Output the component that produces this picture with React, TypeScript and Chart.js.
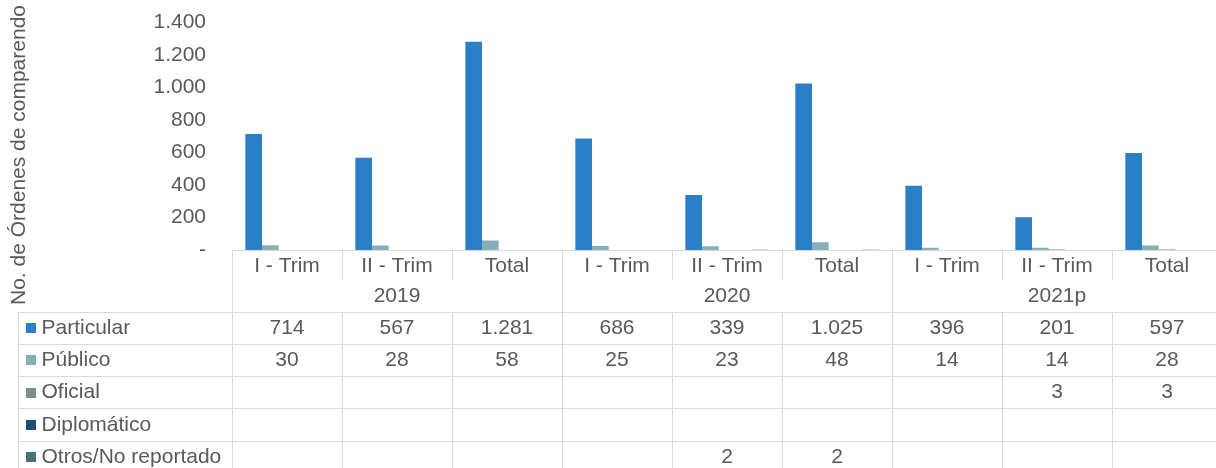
import React, { useEffect, useRef } from 'react';
import { Chart, registerables } from 'chart.js';

Chart.register(...registerables);

const periods = ['I - Trim', 'II - Trim', 'Total', 'I - Trim', 'II - Trim', 'Total', 'I - Trim', 'II - Trim', 'Total'];
const years = ['2019', '2020', '2021p'];
const seriesNames = ['Particular', 'Público', 'Oficial', 'Diplomático', 'Otros/No reportado'];
const particular: (number | null)[] = [714, 567, 1281, 686, 339, 1025, 396, 201, 597];
const publico: (number | null)[] = [30, 28, 58, 25, 23, 48, 14, 14, 28];
const oficial: (number | null)[] = [null, null, null, null, null, null, null, 3, 3];
const diplomatico: (number | null)[] = [null, null, null, null, null, null, null, null, null];
const otros: (number | null)[] = [null, null, null, null, 2, 2, null, null, null];
const seriesColors = ['#2a7fc6', '#86adb8', '#7e8d8d', '#1e4d78', '#4a7078'];
const yMin = 0;
const yMax = 1400;
const yStep = 200;
const yTitle = 'No. de Órdenes de comparendo';

const FONT = '"Liberation Sans", Arial, sans-serif';
const TEXT = '#595959';
const LINE = '#d9d9d9';

const fmt = (v: number) => String(v).replace(/\B(?=(\d{3})+(?!\d))/g, '.');

const allSeries = [particular, publico, oficial, diplomatico, otros];

const tablePlugin = {
  id: 'dataTable',
  afterDraw(chart: any) {
    const ctx = chart.ctx as CanvasRenderingContext2D;
    const ca = chart.chartArea;
    const xs = chart.scales.x;
    const n = periods.length;
    const colW = (ca.right - ca.left) / n;
    const top = ca.bottom;
    const subRowBottom = top + 30;
    const tableTop = top + 61.5;
    const rowH = 32.25;
    const tableLeft = 18;
    const bottom = chart.height;
    const crisp = (v: number) => Math.round(v) + 0.5;

    ctx.save();
    ctx.strokeStyle = LINE;
    ctx.lineWidth = 1;
    const hline = (x1: number, x2: number, y: number) => {
      ctx.beginPath();
      ctx.moveTo(x1, crisp(y));
      ctx.lineTo(x2, crisp(y));
      ctx.stroke();
    };
    const vline = (x: number, y1: number, y2: number) => {
      ctx.beginPath();
      ctx.moveTo(crisp(x), y1);
      ctx.lineTo(crisp(x), y2);
      ctx.stroke();
    };

    // axis / header lines
    hline(ca.left, ca.right, top);
    for (let k = 0; k <= n; k++) {
      const bx = xs.getPixelForValue(Math.min(k, n - 1)) + (k === n ? colW / 2 : -colW / 2);
      if (k % 3 === 0) {
        vline(bx, top, bottom);
      } else {
        vline(bx, top, subRowBottom);
        vline(bx, tableTop, bottom);
      }
    }
    // table rows
    for (let r = 0; r <= seriesNames.length; r++) {
      hline(tableLeft, ca.right, tableTop + r * rowH);
    }
    vline(tableLeft, tableTop, bottom);

    // header texts
    ctx.fillStyle = TEXT;
    ctx.font = `21px ${FONT}`;
    ctx.textAlign = 'center';
    ctx.textBaseline = 'middle';
    for (let i = 0; i < n; i++) {
      ctx.fillText(periods[i], xs.getPixelForValue(i), top + 16);
    }
    for (let g = 0; g < years.length; g++) {
      const cx = xs.getPixelForValue(g * 3 + 1);
      ctx.fillText(years[g], cx, top + 46.5);
    }

    // table body
    for (let r = 0; r < seriesNames.length; r++) {
      const cy = tableTop + r * rowH + rowH / 2 + 0.5;
      ctx.fillStyle = seriesColors[r];
      ctx.fillRect(26, Math.round(cy - 5), 10, 10);
      ctx.fillStyle = TEXT;
      ctx.textAlign = 'left';
      ctx.fillText(seriesNames[r], 41.5, cy);
      ctx.textAlign = 'center';
      const data = allSeries[r];
      for (let i = 0; i < n; i++) {
        const v = data[i];
        if (v !== null && v !== undefined) {
          ctx.fillText(fmt(v), xs.getPixelForValue(i), cy);
        }
      }
    }

    // y axis title
    ctx.save();
    ctx.translate(25, 155);
    ctx.rotate(-Math.PI / 2);
    ctx.textAlign = 'center';
    ctx.textBaseline = 'alphabetic';
    ctx.fillStyle = TEXT;
    ctx.fillText(yTitle, 0, 0);
    ctx.restore();

    ctx.restore();
  },
};

export default function App() {
  const canvasRef = useRef<HTMLCanvasElement | null>(null);

  useEffect(() => {
    const canvas = canvasRef.current;
    if (!canvas) return;
    const labels = periods.map((p, i) => `${years[Math.floor(i / 3)]} ${p}`);
    const chart = new Chart(canvas, {
      type: 'bar',
      data: {
        labels,
        datasets: seriesNames.map((name, i) => ({
          label: name,
          data: allSeries[i],
          backgroundColor: seriesColors[i],
          borderWidth: 0,
          categoryPercentage: 0.7576,
          barPercentage: 1.0,
        })),
      },
      options: {
        responsive: false,
        animation: false,
        devicePixelRatio: 1,
        layout: { padding: { left: 0, right: 8, top: 22.5, bottom: 218 } },
        plugins: {
          legend: { display: false },
          tooltip: { enabled: false },
        },
        scales: {
          x: { display: false },
          y: {
            min: yMin,
            max: yMax,
            grid: { display: false, drawTicks: false },
            border: { display: false },
            afterFit: (scale: any) => {
              scale.width = 232;
              scale.paddingTop = 0;
              scale.paddingBottom = 0;
            },
            ticks: {
              stepSize: yStep,
              padding: 26,
              color: TEXT,
              font: { family: FONT, size: 21 },
              callback: (v: any) => (Number(v) === 0 ? '-' : fmt(Number(v))),
            },
          },
        },
      },
      plugins: [tablePlugin],
    });
    return () => chart.destroy();
  }, []);

  return (
    <div
      style={{
        position: 'fixed',
        left: 0,
        top: 0,
        width: 1216,
        height: 468,
        overflow: 'hidden',
        background: '#fff',
      }}
    >
      <canvas ref={canvasRef} width={1230} height={468} style={{ display: 'block', width: 1230, height: 468 }} />
    </div>
  );
}
